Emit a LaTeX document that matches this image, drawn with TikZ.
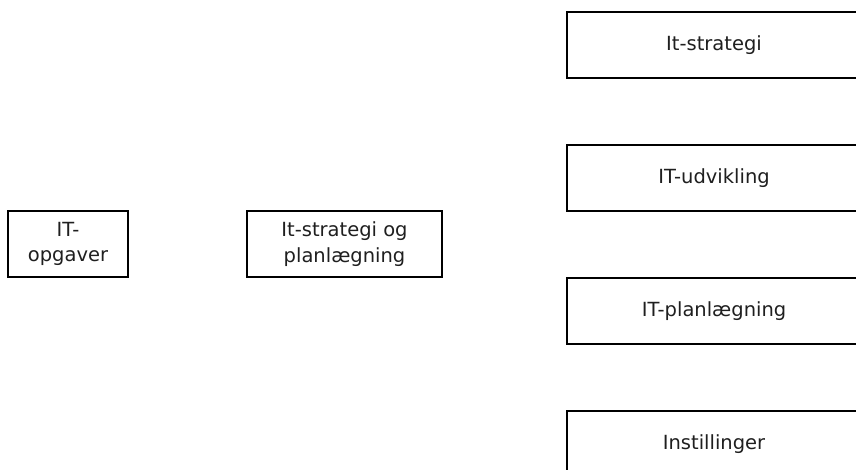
\documentclass[tikz,border=0pt]{standalone}
\usepackage{fontspec}
\setmainfont{DejaVu Sans}
\begin{document}
\begin{tikzpicture}[x=1pt,y=1pt,
  box/.style={draw=black, line width=2.6pt, fill=white, inner sep=0pt,
    align=center, font=\fontsize{19.5}{25.5}\selectfont, text=black!88}]
\useasboundingbox (0,0) rectangle (856,470);
\begin{scope}
\clip (0,0) rectangle (856,470);
% left column
\node[box, minimum width=120, minimum height=66] (itopg) at (68,226) {IT-\\opgaver};
\node[box, minimum width=195, minimum height=66] (plan) at (344.5,226) {It-strategi og\\planlægning};
% right column
\node[box, minimum width=294, minimum height=66] (strat) at (714,425) {It-strategi};
\node[box, minimum width=294, minimum height=66] (udv) at (714,292) {IT-udvikling};
\node[box, minimum width=294, minimum height=66] (itplan) at (714,159) {IT-planlægning};
\node[box, minimum width=294, minimum height=66] (inst) at (714,26) {Instillinger};
\end{scope}
\end{tikzpicture}
\end{document}
